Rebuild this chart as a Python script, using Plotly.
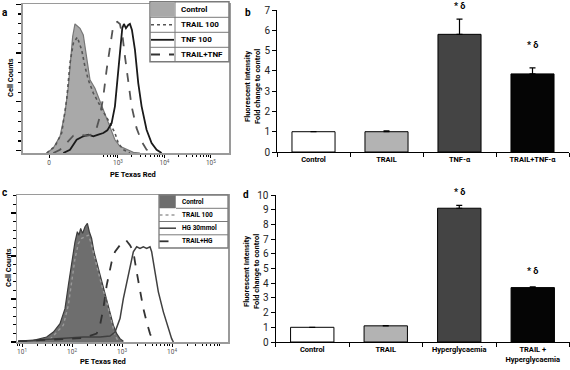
import math
import plotly.graph_objects as go

W, H = 570, 370
def px(x): return x / W
def py(y): return 1 - y / H

FONT = "Roboto, 'Liberation Sans', sans-serif"

# ---------------- Panel a (biexponential display units: 0 -> 1.516, 10^3 -> 3, 10^4 -> 4, 10^5 -> 5)
a_tick_vals = [1.516, 3, 4, 5]
a_tick_text = ["0", "10<sup>3</sup>", "10<sup>4</sup>", "10<sup>5</sup>"]

a_ctrl_x = [1.466, 1.609, 1.753, 1.860, 1.932, 1.982, 2.025, 2.075, 2.183, 2.254, 2.312, 2.398, 2.505,
            2.577, 2.685, 2.828, 2.935, 3.043, 3.186, 3.330, 3.473]
a_ctrl_y = [0, 3.3, 11.2, 26.8, 44.6, 62.5, 78.1, 86.6, 83.7, 79.2, 67, 49.1, 43.5, 37.9, 29, 17.9, 8.9,
            4.5, 2.2, 0.4, 0]

a_trail_x = [1.466, 1.645, 1.789, 1.896, 1.968, 2.039, 2.125, 2.219, 2.290, 2.362, 2.470, 2.613, 2.720,
             2.828, 2.935, 3.007, 3.115, 3.258]
a_trail_y = [0, 4.5, 13.4, 35.7, 60.3, 73.7, 77.7, 69.2, 58, 49.1, 40.2, 31.3, 25.7, 20.1, 13.4, 6.7, 2.2, 0]

a_tnf_x = [1.824, 1.968, 2.111, 2.254, 2.362, 2.470, 2.577, 2.685, 2.771, 2.864, 2.935, 2.986, 3.043,
           3.093, 3.129, 3.172, 3.222, 3.258, 3.301, 3.366, 3.437, 3.509, 3.616, 3.724, 3.832, 3.939]
a_tnf_y = [0, 2.2, 8.9, 11.2, 12.3, 11.2, 12.3, 13.4, 15.2, 20.1, 31.3, 46.9, 69.2, 83.7, 86.6, 83.7,
           85.9, 86.6, 82.6, 69.2, 46.9, 31.3, 15.6, 6.7, 2.2, 0]

a_combo_x = [1.609, 1.753, 1.896, 2.039, 2.183, 2.326, 2.434, 2.541, 2.613, 2.685, 2.756, 2.828, 2.885,
             2.935, 2.986, 3.043, 3.100, 3.151, 3.222, 3.294, 3.401, 3.509, 3.616, 3.724]
a_combo_y = [0, 2.2, 6.7, 11.6, 12.3, 11.6, 12.3, 16.7, 24.6, 37.9, 55.8, 71.4, 82.6, 87.1, 88, 86.6,
             78.1, 64.7, 46.9, 31.3, 16.7, 7.8, 2.2, 0]

a_legend = ["Control", "TRAIL 100", "TNF 100", "TRAIL+TNF"]

# ---------------- Panel b
b_cats = ["Control", "TRAIL", "TNF-α", "TRAIL+TNF-α"]
b_vals = [1.0, 1.0, 5.8, 3.85]
b_err = [0, 0.04, 0.75, 0.3]
b_sig = ["", "", "* δ", "* δ"]
b_sig_y = [0, 0, 7.2, 5.25]

# ---------------- Panel c (log axis)
c_tick_vals = [10, 100, 1000, 10000]
c_tick_text = ["10<sup>1</sup>", "10<sup>2</sup>", "10<sup>3</sup>", "10<sup>4</sup>"]

c_ctrl_x = [8.3, 16.9, 31.1, 42.4, 57.5, 72.4, 84.5, 98.4, 114.8, 127.9, 138, 149, 163, 182, 203, 222,
            247, 275, 311, 363, 423, 494, 575, 671, 782, 912, 1064]
c_ctrl_y = [0.5, 1.1, 3.4, 6.8, 12.5, 22.7, 38.6, 54.5, 68.2, 75, 72.7, 77.3, 73.9, 78.4, 80.7, 75,
            70.5, 61.4, 54.5, 45.5, 38.6, 29.5, 20.5, 11.4, 5.7, 2.3, 0.5]

c_trail_x = [36.3, 67.1, 84.5, 98.4, 114.8, 134, 156, 182, 212, 236, 275, 321, 392, 494, 621, 725, 845]
c_trail_y = [1.8, 11.4, 25, 40.9, 56.8, 67, 70.5, 71.6, 72.7, 68.2, 59.1, 50, 38.6, 27.3, 13.6, 4.5, 0.5]

c_hg_x = [8.4, 78.2, 169, 363, 575, 725, 912, 1064, 1240, 1445, 1686, 1965, 2291, 2672, 3114, 3631,
          3920, 4571, 5330, 6714, 8450, 9840, 10640]
c_hg_y = [0.5, 2.3, 3.4, 3.4, 4.1, 6.8, 15.9, 29.5, 40.9, 52.3, 61.4, 64.8, 63.6, 64.8, 63.6, 64.8,
          61.4, 47.7, 34.1, 20.5, 9.1, 2.3, 0]

c_combo_x = [8.4, 36.3, 169, 311, 363, 423, 494, 621, 725, 912, 1064, 1202, 1445, 1686, 1965, 2291,
             2672, 3114, 3631, 4236]
c_combo_y = [0.5, 1.8, 2.7, 5.7, 11.4, 22.7, 38.6, 54.5, 61.4, 65.9, 67.7, 69.3, 65.9, 61.4, 47.7,
             34.1, 22.7, 13.6, 5.7, 0.5]

c_legend = ["Control", "TRAIL 100", "HG 30mmol", "TRAIL+HG"]

# ---------------- Panel d
d_cats = ["Control", "TRAIL", "Hyperglycaemia", "TRAIL + Hyperglycaemia"]
d_ticktext = ["Control", "TRAIL", "Hyperglycaemia", "TRAIL +<br>Hyperglycaemia"]
d_vals = [1.0, 1.1, 9.1, 3.7]
d_err = [0, 0.02, 0.2, 0.05]
d_sig = ["", "", "* δ", "* δ"]
d_sig_y = [0, 0, 10.2, 4.85]

bar_colors = ["#ffffff", "#b3b3b3", "#444444", "#050505"]

# axis geometry (pixels)
B_DOM_Y = (152, 10)      # bottom, top pixel rows of panel b plot
D_DOM_Y = (342, 195)
B_MAX, D_MAX = 7, 10

fig = go.Figure()

# Panel a traces
fig.add_trace(go.Scatter(x=a_ctrl_x, y=a_ctrl_y, mode="lines", fill="tozeroy", fillcolor="#a9a9a9",
                         line=dict(color="#777777", width=1.2), xaxis="x", yaxis="y"))
fig.add_trace(go.Scatter(x=a_trail_x, y=a_trail_y, mode="lines",
                         line=dict(color="#555555", width=1.6, dash="dot"), xaxis="x", yaxis="y"))
fig.add_trace(go.Scatter(x=a_tnf_x, y=a_tnf_y, mode="lines",
                         line=dict(color="#1a1a1a", width=1.8), xaxis="x", yaxis="y"))
fig.add_trace(go.Scatter(x=a_combo_x, y=a_combo_y, mode="lines",
                         line=dict(color="#555555", width=1.8, dash="dash"), xaxis="x", yaxis="y"))

# Panel b
fig.add_trace(go.Bar(x=b_cats, y=b_vals, width=0.59, marker=dict(color=bar_colors, line=dict(color="black", width=1)),
                     error_y=dict(type="data", symmetric=False, array=b_err, arrayminus=[0] * 4,
                                  color="black", thickness=1.2, width=3),
                     xaxis="x2", yaxis="y2"))

# Panel c traces
fig.add_trace(go.Scatter(x=c_ctrl_x, y=c_ctrl_y, mode="lines", fill="tozeroy", fillcolor="#6e6e6e",
                         line=dict(color="#3c3c3c", width=1.2), xaxis="x3", yaxis="y3"))
fig.add_trace(go.Scatter(x=c_trail_x, y=c_trail_y, mode="lines",
                         line=dict(color="#9a9a9a", width=1.4, dash="dot"), xaxis="x3", yaxis="y3"))
fig.add_trace(go.Scatter(x=c_hg_x, y=c_hg_y, mode="lines",
                         line=dict(color="#404040", width=1.5), xaxis="x3", yaxis="y3"))
fig.add_trace(go.Scatter(x=c_combo_x, y=c_combo_y, mode="lines",
                         line=dict(color="#333333", width=1.8, dash="dash"), xaxis="x3", yaxis="y3"))

# Panel d
fig.add_trace(go.Bar(x=d_cats, y=d_vals, width=0.59, marker=dict(color=bar_colors, line=dict(color="black", width=1)),
                     error_y=dict(type="data", symmetric=False, array=d_err, arrayminus=[0] * 4,
                                  color="black", thickness=1.2, width=3),
                     xaxis="x4", yaxis="y4"))

a_minor = [d + math.log10(k) for d in (3, 4) for k in range(2, 10)] + [2.0 + math.log10(k) for k in range(5, 10)]
c_minor = [k * 10 ** d for d in range(0, 5) for k in range(2, 10)]

hist_frame = dict(showline=True, linecolor="#9a9a9a", linewidth=1.5, mirror=True, showgrid=False,
                  zeroline=False, automargin=False)
TICKFONT_BOLD = dict(size=7.5, family=FONT, color="black", weight="bold")

layout = dict(
    width=W, height=H, margin=dict(l=0, r=0, t=0, b=0, autoexpand=False),
    paper_bgcolor="white", plot_bgcolor="white", showlegend=False,
    font=dict(family=FONT, color="black"),
    xaxis=dict(domain=[px(22.7), px(229)], anchor="y", range=[0.95, 5.39], tickmode="array",
               tickvals=a_tick_vals, ticktext=a_tick_text, ticks="outside", ticklen=3, tickcolor="black",
               tickfont=dict(size=6.5, color="#555555"),
               minor=dict(tickmode="array", tickvals=a_minor, ticks="outside", ticklen=2, tickcolor="black"),
               **hist_frame),
    yaxis=dict(domain=[py(153), py(4)], anchor="x", range=[0, 100], tickmode="array",
               tickvals=[1.5, 34.3, 67.1, 99.9], showticklabels=False, ticks="outside", ticklen=5,
               tickcolor="black", tickwidth=1.2,
               minor=dict(tickmode="array", tickvals=[1.5 + 6.56 * i for i in range(16)], ticks="outside",
                          ticklen=3, tickcolor="black"),
               **hist_frame),
    xaxis2=dict(domain=[px(277), px(569)], anchor="y2", type="category", tickmode="array",
                tickvals=b_cats, ticktext=b_cats, tickson="boundaries", automargin=False,
                ticks="outside", ticklen=4, tickcolor="black", showline=True, linecolor="black", linewidth=1,
                tickfont=TICKFONT_BOLD, showgrid=False),
    yaxis2=dict(domain=[py(B_DOM_Y[0]), py(B_DOM_Y[1])], anchor="x2", range=[0, B_MAX], dtick=1,
                ticks="outside", ticklen=4, automargin=False,
                tickcolor="black", showline=True, linecolor="black", linewidth=1, showgrid=False,
                zeroline=False, tickfont=dict(size=10, color="#222222")),
    xaxis3=dict(domain=[px(17), px(228)], anchor="y3", type="log", range=[0.9, 5.12], tickmode="array",
                tickvals=c_tick_vals, ticktext=c_tick_text, ticks="outside", ticklen=3, tickcolor="black",
                tickfont=dict(size=6.5, color="#555555"),
                minor=dict(tickmode="array", tickvals=c_minor, ticks="outside", ticklen=2, tickcolor="black"),
                **hist_frame),
    yaxis3=dict(domain=[py(342), py(195)], anchor="x3", range=[0, 100], tickmode="array",
                tickvals=[0, 29.3, 58.5, 87.8], showticklabels=False, ticks="outside", ticklen=5,
                tickcolor="black", tickwidth=1.2,
                minor=dict(tickmode="array", tickvals=[5.85 * i for i in range(18)], ticks="outside",
                           ticklen=3, tickcolor="black"),
                **hist_frame),
    xaxis4=dict(domain=[px(275.5), px(569.5)], anchor="y4", type="category", tickmode="array",
                tickvals=d_cats, ticktext=d_ticktext, tickson="boundaries", automargin=False,
                ticks="outside", ticklen=4, tickcolor="black", showline=True, linecolor="black", linewidth=1,
                tickfont=TICKFONT_BOLD, showgrid=False),
    yaxis4=dict(domain=[py(D_DOM_Y[0]), py(D_DOM_Y[1])], anchor="x4", range=[0, D_MAX], dtick=1,
                ticks="outside", ticklen=4, automargin=False,
                tickcolor="black", showline=True, linecolor="black", linewidth=1, showgrid=False,
                zeroline=False, tickfont=dict(size=10, color="#222222")),
)

annotations = []
def ann(text, x, y, size=8, angle=0, xanchor="center", xref="paper", weight="bold"):
    annotations.append(dict(text=text, x=x, y=y, xref=xref, yref="paper", showarrow=False,
                            font=dict(size=size, family=FONT, color="black", weight=weight),
                            textangle=angle, xanchor=xanchor, yanchor="middle"))

ann("a", px(5), py(13), size=10)
ann("b", px(248), py(13), size=10)
ann("c", px(4), py(192), size=10)
ann("d", px(246), py(195), size=10)
ann("Cell Counts", px(10), py(78), size=7.5, angle=-90)
ann("Cell Counts", px(8), py(268), size=7.5, angle=-90)
ann("PE Texas Red", px(133), py(174), size=7.5)
ann("PE Texas Red", px(103), py(361), size=7.5)
ann("Fluorescent Intensity<br>Fold change to control", px(252), py(87), size=7.5, angle=-90)
ann("Fluorescent Intensity<br>Fold change to control", px(251), py(272), size=7.5, angle=-90)

# significance markers: convert value to paper position through the panel's y scale
def val_to_paper(v, dom, vmax):
    bottom, top = py(dom[0]), py(dom[1])
    return bottom + (top - bottom) * v / vmax

for cat, s, yy in zip(b_cats, b_sig, b_sig_y):
    if s:
        ann(s, cat, val_to_paper(yy, B_DOM_Y, B_MAX), size=9, xref="x2")
for cat, s, yy in zip(d_cats, d_sig, d_sig_y):
    if s:
        ann(s, cat, val_to_paper(yy, D_DOM_Y, D_MAX), size=9, xref="x4")

shapes = []
def rect(x0, y0, x1, y1, fill="white", line="#7a7a7a", lw=1.2):
    shapes.append(dict(type="rect", xref="paper", yref="paper", x0=px(x0), x1=px(x1), y0=py(y1), y1=py(y0),
                       fillcolor=fill, line=dict(color=line, width=lw)))
def hline(x0, x1, y, color="#7a7a7a", lw=1.0, dash="solid"):
    shapes.append(dict(type="line", xref="paper", yref="paper", x0=px(x0), x1=px(x1), y0=py(y), y1=py(y),
                       line=dict(color=color, width=lw, dash=dash)))
def vline(x, y0, y1, color="#7a7a7a", lw=1.0):
    shapes.append(dict(type="line", xref="paper", yref="paper", x0=px(x), x1=px(x), y0=py(y0), y1=py(y1),
                       line=dict(color=color, width=lw)))

# Legend table panel a
rect(150, 1.7, 229, 61.7, lw=1.5)
for yy in (17.3, 32.3, 47.3):
    hline(150, 229, yy)
vline(175, 1.7, 61.7)
rect(150.8, 2.5, 174.5, 16.8, fill="#a9a9a9", line="#a9a9a9", lw=0.5)
hline(151, 174, 24.8, color="#555555", lw=1.6, dash="dot")
hline(151, 174, 39.8, color="#1a1a1a", lw=1.8)
hline(151, 174, 54.5, color="#333333", lw=1.8, dash="dash")
for i, t in enumerate(a_legend):
    ann(t, px(179), py(9.5 + 15 * i), size=8, xanchor="left")

# Legend table panel c
rect(159, 195, 228, 248, lw=1.3)
hline(176, 228, 208.3)
hline(159, 228, 221.5)
hline(159, 228, 234.8)
rect(159.5, 195.5, 175.5, 208, fill="#6e6e6e", line="#6e6e6e", lw=0.5)
hline(159.5, 176, 215, color="#9a9a9a", lw=1.3, dash="dot")
hline(159.5, 176, 228.2, color="#404040", lw=1.5)
hline(159.5, 176, 241.3, color="#333333", lw=1.8, dash="dash")
for i, t in enumerate(c_legend):
    ann(t, px(180), py(201.6 + 13.25 * i), size=6.5, xanchor="left")

layout["annotations"] = annotations
layout["shapes"] = shapes
fig.update_layout(**layout)
fig.write_html("out.html", config={"displayModeBar": False, "staticPlot": True},
               post_script="document.body.style.margin='0';document.body.style.overflow='hidden';")
